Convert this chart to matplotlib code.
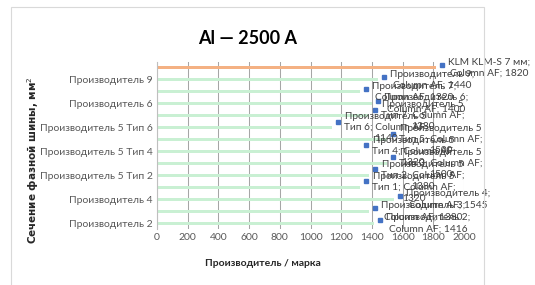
import matplotlib.pyplot as plt
import matplotlib.transforms as mtransforms
from matplotlib.patches import Rectangle

plt.rcParams['font.family'] = ['Lato', 'DejaVu Sans']

# categories from bottom to top
cats = ['Производитель 2', 'Производитель 3', 'Производитель 4',
        'Производитель 5 Тип 1', 'Производитель 5 Тип 2', 'Производитель 5 Тип 3',
        'Производитель 5 Тип 4', 'Производитель 5 Тип 5', 'Производитель 5 Тип 6',
        'Производитель 5 Тип 7', 'Производитель 6', 'Производитель 7',
        'Производитель 9', 'KLM KLM-S 7 мм']
values = [1416, 1380, 1545, 1320, 1380, 1500, 1320, 1500, 1140, 1380, 1400, 1320, 1440, 1820]
series_name = 'Column AF'
shown_ticks = ['Производитель 2', 'Производитель 4', 'Производитель 5 Тип 2',
               'Производитель 5 Тип 4', 'Производитель 5 Тип 6', 'Производитель 6',
               'Производитель 9']

green = '#c9f0d3'
orange = '#f4b183'
blue = '#4472c4'
txt = '#404040'

fig = plt.figure(figsize=(5.35, 2.85), dpi=100)
ax = fig.add_axes([157/535, 1 - 229.3/285, (464-157)/535, (229.3-61.7)/285])

ypos = list(range(len(cats)))
colors = [green] * (len(cats) - 1) + [orange]
ax.barh(ypos, values, height=0.28, color=colors, zorder=2)

ax.set_xlim(0, 2000)
ax.set_ylim(-0.5, len(cats) - 0.5)
ax.set_xticks(range(0, 2001, 200))
ax.grid(axis='x', color='#a6a6a6', linewidth=0.75, zorder=0)
ax.set_yticks([cats.index(c) for c in shown_ticks])
ax.set_yticklabels(shown_ticks)
ax.tick_params(length=0, labelsize=7.5, colors='#595959', pad=3)
for s in ['top', 'right', 'bottom']:
    ax.spines[s].set_visible(False)
ax.spines['left'].set_color('#bfbfbf')

# data labels with legend keys
for i, (c, v) in enumerate(zip(cats, values)):
    if 'Тип' in c:
        name, typ = c.split(' Тип ')
        label = name + '\nТип ' + typ + '; ' + series_name + ';\n' + str(v)
        dy = -6
    else:
        label = c + ';\n' + series_name + '; ' + str(v)
        dy = -3
    shift = mtransforms.ScaledTranslation(6/100, -dy/100, fig.dpi_scale_trans)
    ax.plot([v], [i], marker='s', ms=3, color=blue, linestyle='none',
            transform=ax.transData + shift, zorder=4, clip_on=False)
    ax.annotate(label, xy=(v, i), xytext=(12, 0), textcoords='offset pixels',
                ha='left', va='center', multialignment='center', fontsize=7.3,
                color=txt, linespacing=1.32, annotation_clip=False, zorder=5)

fig.text(247.5/535, 1 - 38/285, 'Al — 2500 A', ha='center', va='center',
         fontsize=13, fontweight='bold', color='black')
fig.text(263/535, 1 - 263/285, 'Производитель / марка', ha='center', va='center',
         fontsize=7.5, fontweight='bold', color='#262626')
fig.text(33/535, 1 - 160/285, 'Сечение фазной шины, мм$^2$', ha='center', va='center',
         rotation=90, fontsize=7.5, fontweight='bold', color='#262626',
         family=['Liberation Sans Narrow', 'DejaVu Sans'])

fig.patches.append(Rectangle((11/535, -0.05), (484-11)/535, 1 - 7/285 + 0.05,
                             transform=fig.transFigure, fill=False,
                             edgecolor='#d9d9d9', linewidth=0.8))

fig.savefig('out.png', dpi=100)
